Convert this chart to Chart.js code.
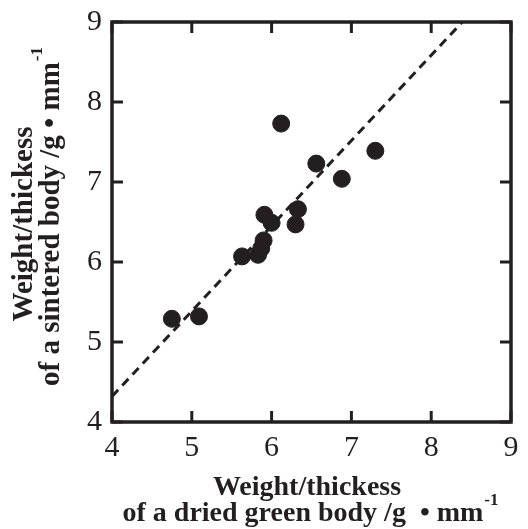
<!DOCTYPE html>
<html lang="en">
<head>
  <meta charset="UTF-8">
  <title>Sintered vs dried green body</title>
  <script src="https://cdn.jsdelivr.net/npm/chart.js"></script>
  <style>
    html, body { margin: 0; padding: 0; background: #fff; }
    #wrap { width: 528px; height: 529px; }
  </style>
</head>
<body>
  <div id="wrap"><canvas id="chart" width="528" height="529"></canvas></div>

  <script>
    // measured points (dried green body vs sintered body)
    const greenX = [4.75, 5.09, 5.63, 5.83, 5.87, 5.90, 5.91, 6.00, 6.12, 6.33, 6.30, 6.56, 6.88, 7.30];
    const sinteredY = [5.29, 5.32, 6.07, 6.09, 6.17, 6.27, 6.59, 6.49, 7.73, 6.66, 6.47, 7.23, 7.04, 7.39];

    // dashed fit line end points
    const fitX = [4, 8.39];
    const fitY = [4.32, 9];

    const tickValues = [4, 5, 6, 7, 8, 9];

    const serif = '"Liberation Serif", "Times New Roman", serif';

    // frame + inner tick marks + the two-line axis titles
    const framePlugin = {
      id: 'frame',
      afterDraw(chart) {
        const { ctx, chartArea: a, scales } = chart;
        ctx.save();
        ctx.strokeStyle = '#231f20';
        ctx.lineWidth = 3;
        tickValues.forEach(v => {
          const px = scales.x.getPixelForValue(v);
          const py = scales.y.getPixelForValue(v);
          ctx.beginPath();
          ctx.moveTo(px, a.bottom); ctx.lineTo(px, a.bottom - 11);
          ctx.moveTo(px, a.top); ctx.lineTo(px, a.top + 11);
          ctx.moveTo(a.left, py); ctx.lineTo(a.left + 11, py);
          ctx.moveTo(a.right, py); ctx.lineTo(a.right - 11, py);
          ctx.stroke();
        });
        ctx.lineWidth = 3.5;
        ctx.strokeRect(a.left, a.top, a.right - a.left, a.bottom - a.top);

        ctx.fillStyle = '#231f20';
        ctx.textBaseline = 'middle';

        function twoPart(main, exp, cx, cy, size) {
          const bold = 'bold ' + size + 'px ' + serif;
          const sup = 'bold ' + Math.round(size * 0.6) + 'px ' + serif;
          ctx.font = bold;
          const w1 = ctx.measureText(main).width;
          ctx.font = sup;
          const w2 = ctx.measureText(exp).width;
          const x0 = cx - (w1 + w2) / 2;
          ctx.textAlign = 'left';
          ctx.font = bold;
          ctx.fillText(main, x0, cy);
          ctx.font = sup;
          ctx.fillText(exp, x0 + w1 + 1, cy - size * 0.48);
        }

        // x title
        ctx.font = 'bold 28px ' + serif;
        ctx.textAlign = 'center';
        ctx.fillText('Weight/thickess', 307, 488);
        twoPart('of a dried green body /g  \u2022 mm', '-1', 310, 514, 28);

        // y title (rotated)
        ctx.save();
        ctx.translate(25, 224);
        ctx.rotate(-Math.PI / 2);
        ctx.font = 'bold 29px ' + serif;
        ctx.textAlign = 'center';
        ctx.fillText('Weight/thickess', 0, 0);
        ctx.restore();
        ctx.save();
        ctx.translate(52, 217);
        ctx.rotate(-Math.PI / 2);
        twoPart('of a sintered body /g \u2022 mm', '-1', 0, 0, 29);
        ctx.restore();
        ctx.restore();
      }
    };

    const ctx = document.getElementById('chart').getContext('2d');
    new Chart(ctx, {
      type: 'scatter',
      data: {
        datasets: [
          {
            label: 'fit',
            type: 'line',
            data: fitX.map((x, i) => ({ x: x, y: fitY[i] })),
            borderColor: '#231f20',
            borderWidth: 3,
            borderDash: [9, 6],
            pointRadius: 0,
            fill: false,
            order: 2
          },
          {
            label: 'samples',
            data: greenX.map((x, i) => ({ x: x, y: sinteredY[i] })),
            backgroundColor: '#231f20',
            borderColor: '#231f20',
            pointRadius: 8.5,
            pointHoverRadius: 8.5,
            order: 1
          }
        ]
      },
      options: {
        responsive: false,
        animation: false,
        events: [],
        layout: { padding: { top: 22, right: 17, left: 0, bottom: 0 } },
        plugins: {
          legend: { display: false },
          tooltip: { enabled: false }
        },
        scales: {
          x: {
            type: 'linear',
            min: 4, max: 9,
            grid: { display: false },
            border: { display: false },
            afterBuildTicks: s => { s.ticks = tickValues.map(v => ({ value: v })); },
            afterFit: s => { s.height = 107; },
            ticks: {
              color: '#231f20',
              font: { family: serif, size: 30 },
              padding: 0,
              maxRotation: 0
            }
          },
          y: {
            type: 'linear',
            min: 4, max: 9,
            grid: { display: false },
            border: { display: false },
            afterBuildTicks: s => { s.ticks = tickValues.map(v => ({ value: v })); },
            afterFit: s => { s.width = 112; },
            ticks: {
              color: '#231f20',
              font: { family: serif, size: 30 },
              padding: 2
            }
          }
        }
      },
      plugins: [framePlugin]
    });
  </script>
</body>
</html>
